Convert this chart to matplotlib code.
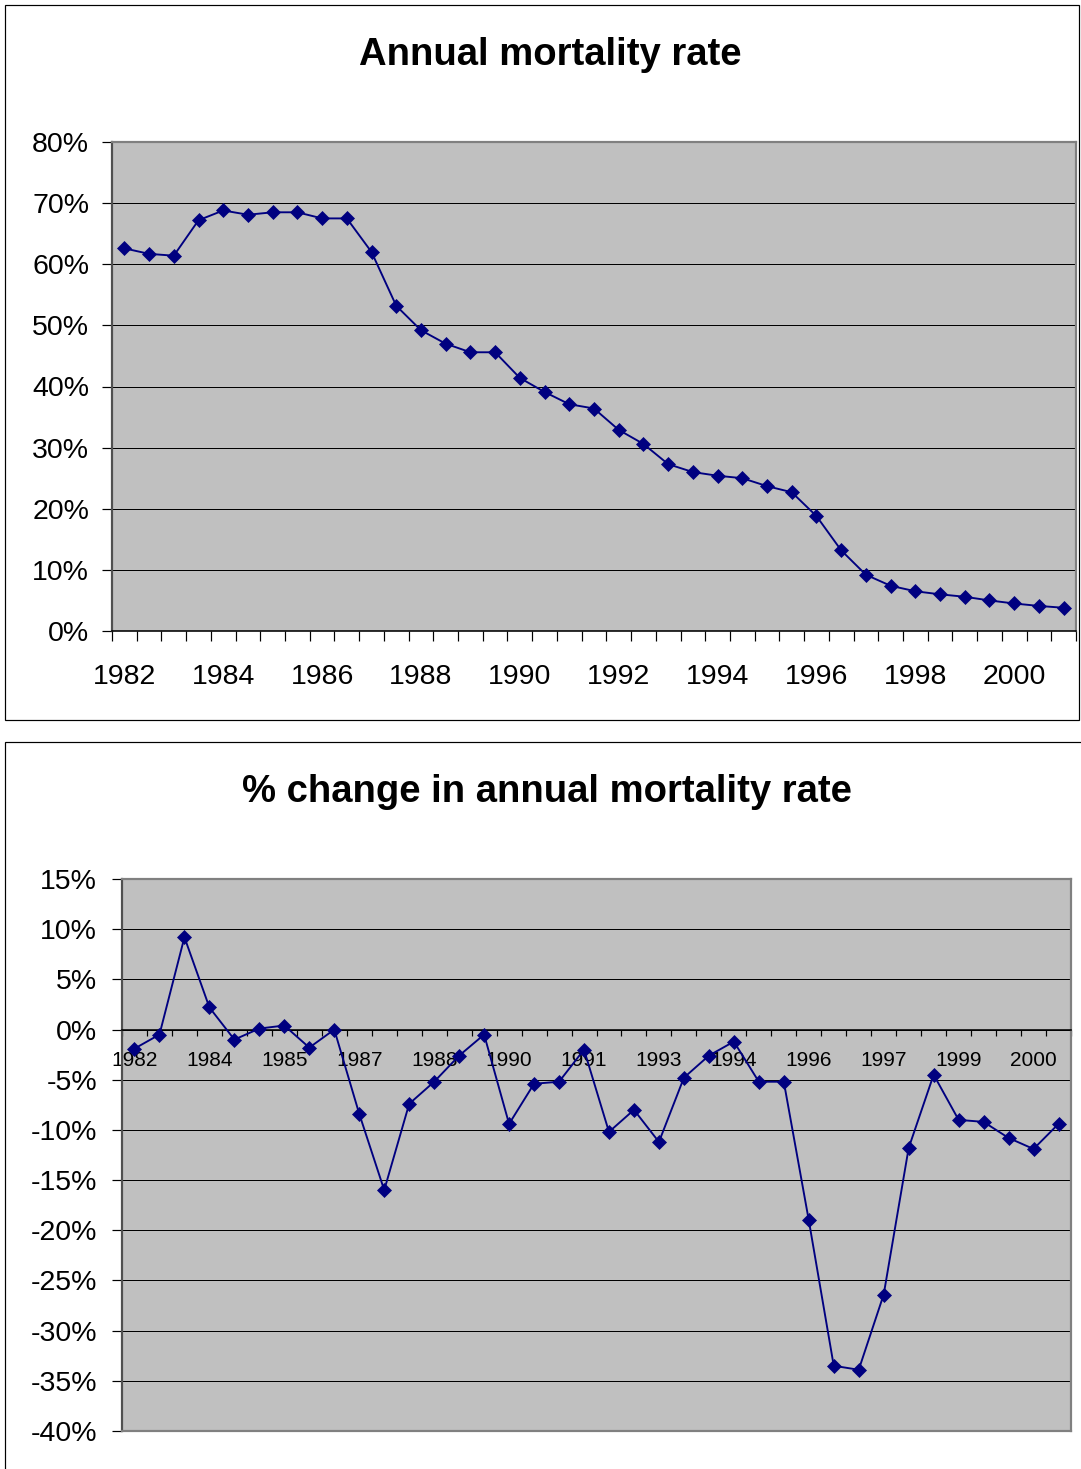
import matplotlib
matplotlib.use("Agg")
import matplotlib.pyplot as plt
from matplotlib.patches import Rectangle
from matplotlib.ticker import FixedLocator, FixedFormatter

plt.rcParams['font.family'] = ['Liberation Sans', 'DejaVu Sans']

# ---------------- data ----------------
rate_labels = ["1982", "1984", "1986", "1988", "1990", "1992", "1994", "1996", "1998", "2000"]
mortality_rate = [62.6, 61.7, 61.4, 67.2, 68.8, 68.1, 68.5, 68.5, 67.5, 67.5,
                  62.0, 53.2, 49.2, 47.0, 45.6, 45.6, 41.4, 39.1, 37.1, 36.4,
                  32.9, 30.6, 27.3, 26.0, 25.4, 25.0, 23.7, 22.7, 18.8, 13.2,
                  9.2, 7.4, 6.5, 6.0, 5.6, 5.0, 4.5, 4.1, 3.8]
rate_yticks = [0, 10, 20, 30, 40, 50, 60, 70, 80]
rate_yticklabels = ["0%", "10%", "20%", "30%", "40%", "50%", "60%", "70%", "80%"]

change_labels = ["1982", "1984", "1985", "1987", "1988", "1990", "1991",
                 "1993", "1994", "1996", "1997", "1999", "2000"]
pct_change = [-1.9, -0.5, 9.2, 2.2, -1.0, 0.1, 0.4, -1.8, 0.0, -8.4,
              -16.0, -7.4, -5.2, -2.6, -0.5, -9.4, -5.4, -5.2, -2.0, -10.2,
              -8.0, -11.2, -4.8, -2.6, -1.2, -5.2, -5.2, -19.0, -33.5, -33.9,
              -26.4, -11.8, -4.5, -9.0, -9.2, -10.8, -11.9, -9.4]
change_yticks = [15, 10, 5, 0, -5, -10, -15, -20, -25, -30, -35, -40]
change_yticklabels = ["15%", "10%", "5%", "0%", "-5%", "-10%", "-15%", "-20%",
                      "-25%", "-30%", "-35%", "-40%"]

# ---------------- styling ----------------
W, H = 1081, 1469
PT = 72 / 100.0  # points per pixel at dpi 100
NAVY = "#000080"
PLOT_BG = "#C0C0C0"
BORDER = "#808080"

fig = plt.figure(figsize=(W / 100, H / 100), dpi=100)


def px_axes(l, t, r, b):
    return fig.add_axes([l / W, 1 - b / H, (r - l) / W, (b - t) / H])


def style_axes(ax, n, label_every, labels, yticks, yticklabels, ylim,
               ytick_fs, xtick_fs, xpad_px, xtick_len_px, ypad_px, zero_axis):
    ax.set_facecolor(PLOT_BG)
    ax.set_xlim(-0.5, n - 0.5)
    ax.set_ylim(*ylim)
    ax.set_yticks(yticks)
    ax.set_yticklabels(yticklabels, fontsize=ytick_fs)
    ax.yaxis.grid(True, color="black", lw=1.0 * PT)
    ax.set_axisbelow(True)
    ax.tick_params(axis="y", direction="out", length=10 * PT, width=1.2 * PT,
                   pad=ypad_px * PT, colors="black")
    # category boundaries as major ticks, labels on minor ticks at centres
    bounds = [i - 0.5 for i in range(n + 1)]
    ax.xaxis.set_major_locator(FixedLocator(bounds))
    ax.xaxis.set_major_formatter(FixedFormatter([""] * len(bounds)))
    centres = list(range(0, n, label_every))[:len(labels)]
    ax.xaxis.set_minor_locator(FixedLocator(centres))
    ax.xaxis.set_minor_formatter(FixedFormatter(labels))
    ax.tick_params(axis="x", which="major", direction="out",
                   length=xtick_len_px * PT, width=1.2 * PT, color="black")
    ax.tick_params(axis="x", which="minor", length=0, pad=xpad_px * PT,
                   labelsize=xtick_fs)
    for s in ("top", "right"):
        ax.spines[s].set_color(BORDER)
        ax.spines[s].set_linewidth(2.2 * PT)
    ax.spines["left"].set_color("#505050")
    ax.spines["left"].set_linewidth(2.2 * PT)
    ax.spines["bottom"].set_color("black")
    ax.spines["bottom"].set_linewidth(1.6 * PT)
    if zero_axis:
        ax.spines["bottom"].set_position(("data", 0))
        ax.plot([0, 1], [0, 0], transform=ax.transAxes, color=BORDER,
                lw=2.2 * PT, clip_on=False, zorder=5)


# ---------------- top chart ----------------
fig.patches.append(Rectangle((5 / W, 1 - 720 / H), (1079 - 5) / W, (720 - 5) / H,
                             transform=fig.transFigure, fill=False,
                             ec="black", lw=1.2 * PT))
fig.text(550 / W, 1 - 55 / H, "Annual mortality rate", ha="center", va="center",
         fontsize=27.5, fontweight="bold")
ax1 = px_axes(112, 142, 1076, 631)
x1 = list(range(len(mortality_rate)))
ax1.plot(x1, mortality_rate, color=NAVY, lw=1.9 * PT, marker="D",
         markersize=7.5, markerfacecolor=NAVY, markeredgecolor=NAVY,
         markeredgewidth=0.5, zorder=4)
style_axes(ax1, len(mortality_rate), 4, rate_labels, rate_yticks,
           rate_yticklabels, (0, 80), 20.5, 20.5, 33, 10, 13, False)

# ---------------- bottom chart ----------------
fig.patches.append(Rectangle((5 / W, 1 - 1490 / H), (1090 - 5) / W, (1490 - 742) / H,
                             transform=fig.transFigure, fill=False,
                             ec="black", lw=1.2 * PT))
fig.text(547 / W, 1 - 792 / H, "% change in annual mortality rate", ha="center",
         va="center", fontsize=27.5, fontweight="bold")
ax2 = px_axes(122, 879, 1071, 1431)
x2 = list(range(len(pct_change)))
ax2.plot(x2, pct_change, color=NAVY, lw=1.9 * PT, marker="D",
         markersize=7.5, markerfacecolor=NAVY, markeredgecolor=NAVY,
         markeredgewidth=0.5, zorder=4)
style_axes(ax2, len(pct_change), 3, change_labels, change_yticks,
           change_yticklabels, (-40, 15), 20.5, 15, 21, 6, 15, True)

fig.savefig("out.png", dpi=100)
